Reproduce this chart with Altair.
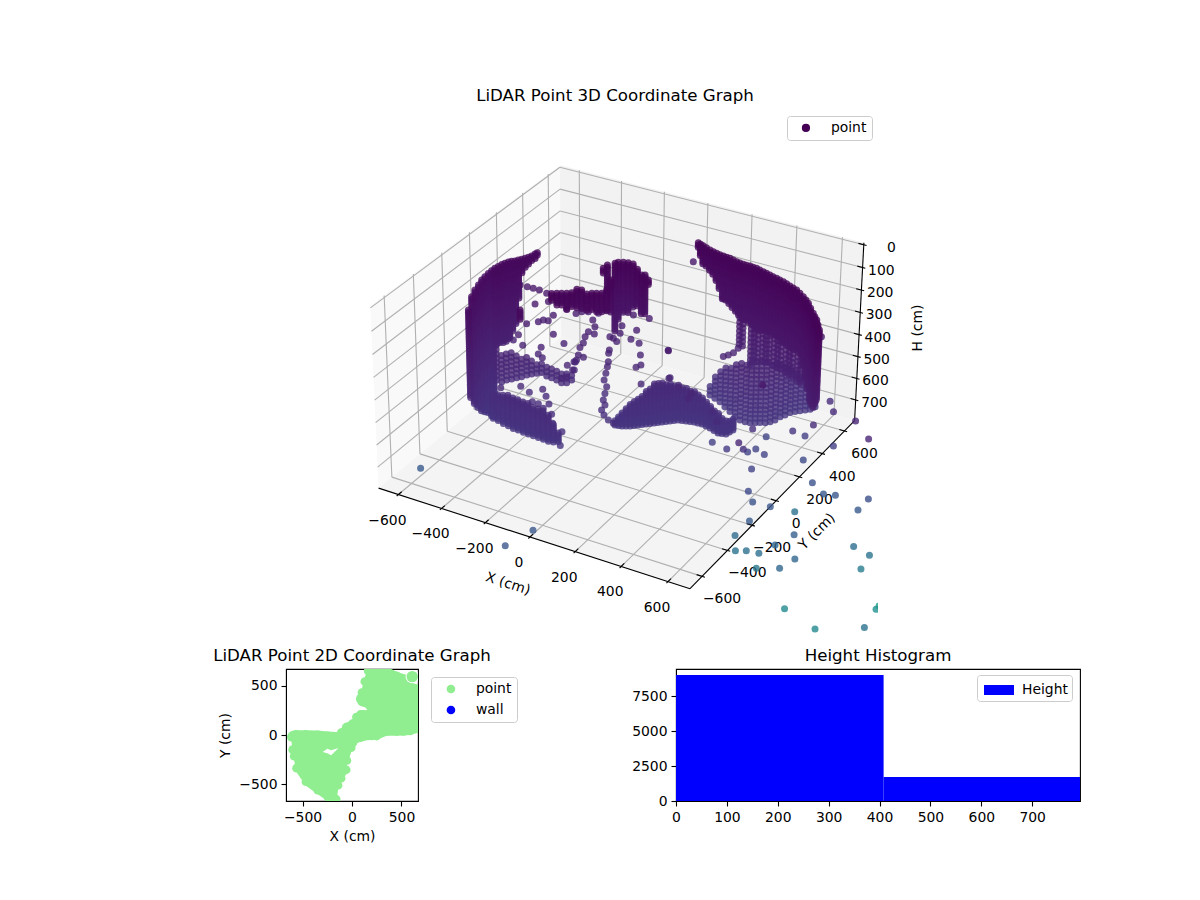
import numpy as np
import pandas as pd
import altair as alt

FONT = "DejaVu Sans"
X_TICKS = [-600, -400, -200, 0, 200, 400, 600]
Y_TICKS = [-600, -400, -200, 0, 200, 400, 600]
H_TICKS = [0, 100, 200, 300, 400, 500, 600, 700]
x0, x1, y0, y1 = -693, 693, -693, 693
zb, zt = 796, -9

# isolated LiDAR returns: (x, y, h) in cm
far_points = [(588,-126,500),(307,320,850),(477,132,700),(280,560,1000),(298,598,1000),(348,578,1000),(194,409,900),(355,452,1000),(436,766,1100),(634,629,900),(1004,144,500),(903,239,500),(546,427,750),(499,641,900),(704,283,600),(475,212,650),(290,706,1000),(351,437,1100),(298,585,1250),(309,730,1350),(446,843,1250),(425,1003,1400),(507,947,1350),(737,774,1200),(608,963,1400),(43,1522,1900),(249,658,1400),(4,1008,1750),(393,797,1500),(259,891,1650),(464,1258,1800),(-41,1104,1900),(35,1061,1850),(127,1002,1800),(493,1369,1900),(382,837,1650),(358,741,1650),(38,1160,2000),(385,1527,2100),(70,1400,2350),(349,1806,2500),(203,2173,2750),(264,1325,2350),(715,857,1900)]
near_points = [(-87,741,300),(140,125,350),(123,173,500),(149,200,550),(255,108,500),(263,68,500),(314,175,600),(365,116,600),(680,478,600),(727,413,600),(620,-4,300),(647,441,300),(253,362,200),(267,347,450),(278,368,450),(287,395,450),(287,435,450),(-1184,316,1400),(-464,76,1350),(-503,-80,1350)]
mid_points = [(-510,189,350),(-464,217,340),(-470,148,400),(-450,154,390),(-430,159,390),(-426,192,380),(-502,110,400),(-512,63,430),(-480,43,460),(-392,135,430),(-344,137,460),(-417,81,470),(-408,44,480),(-388,42,490),(-297,84,520),(-283,123,520),(-263,81,530),(-247,126,490),(-282,158,470),(-279,180,460),(-272,208,420),(-281,197,440),(-251,219,430),(-261,241,410),(-278,253,390),(-355,251,380),(-388,232,360),(-333,259,370),(-310,272,370),(-277,296,380),(-253,321,370),(-171,302,410),(-110,314,420),(-120,286,450),(-84,289,460),(-59,256,490),(-35,218,510),(-51,207,520),(-11,178,570),(-87,376,390),(-148,354,380),(36,313,470),(80,242,550),(-490,-111,580),(-417,-77,570),(-381,-71,590),(-338,-39,580),(-316,-50,600),(-331,-85,620),(-351,-98,610),(-293,-66,620),(-304,-92,630),(-269,-86,650),(-247,-115,670),(-199,-123,690),(-185,-160,730),(-526,46,450),(-541,32,440),(-597,217,300),(-564,219,300),(-546,235,310),(-517,235,310),(-487,242,320),(-176,242,440),(-160,241,450),(-195,247,440),(-164,275,430),(-169,198,470),(-167,189,480),(-161,176,510),(-153,155,520),(-149,136,540),(-146,117,560),(-119,91,570),(-116,72,590),(-113,54,610),(-96,38,620),(-105,27,640),(-86,13,650),(-60,3,660),(-38,5,670),(-274,132,490),(-269,109,500),(-280,108,510),(-269,78,530),(-280,50,550),(-291,29,550)]

# scanned wall columns: (x, y, top h, bottom h) in cm
wall_a = [(-515,-293,150,540),(-562,-196,150,630),(-580,-144,150,680),(-590,-102,150,720),(-601,-61,150,750),(-605,-31,150,770),(-608,-1,150,800),(-609,25,150,820)]
wall_b = [(-557,-32,100,440),(-553,-13,100,440),(-550,8,100,450),(-545,24,100,450),(-539,40,100,440),(-531,51,100,410),(-521,60,100,380),(-514,74,100,270),(-293,-271,100,140),(-505,85,100,160),(-498,99,100,140),(-491,113,100,130),(-486,129,100,120),(-483,150,100,120),(-481,164,100,110)]
floor_c = [(-535,-101,630,740),(-508,-106,620,740),(-479,-114,610,740),(-452,-119,600,740),(-424,-127,600,740),(-400,-128,600,740),(-373,-133,600,740),(-349,-134,600,740),(-325,-135,610,740),(-301,-136,610,740),(-276,-139,610,740),(-251,-142,620,740),(-231,-136,660,740),(-216,-124,700,740)]
lattice_d = [(-555,-39,440,600),(-530,-40,470,600),(-520,-19,470,600),(-507,-2,480,600),(-495,17,490,600),(-482,34,510,600),(-471,56,520,600),(-458,72,540,600),(-443,87,550,600),(-429,102,560,600),(-397,89,550,600),(-373,87,550,600),(-346,82,550,600),(-318,73,550,600),(-300,83,550,600),(-294,112,570,600)]
ceiling_e = [(-199,-192,40,70),(-182,-182,40,90),(-166,-173,40,90),(-149,-163,40,110),(-135,-149,40,100),(-132,-116,40,120),(-113,-112,40,120),(-80,-130,40,110),(-66,-115,40,110),(-50,-106,40,120),(-33,-96,40,120),(-130,82,40,60),(-130,114,40,150),(-30,-64,40,130),(-57,14,40,180),(-111,141,40,340),(-104,154,40,290),(-87,164,40,260),(-69,171,40,260),(-47,171,40,230),(-11,141,40,200),(26,109,40,210),(38,115,40,210),(69,86,40,60)]
wall_f = [(78,472,50,70),(92,465,50,100),(107,459,50,130),(127,449,50,135),(148,440,50,140),(166,434,50,155),(184,428,50,170),(200,425,50,205),(217,422,50,240),(233,419,50,245),(249,417,50,250),(267,411,50,260),(285,406,50,270),(301,402,50,280),(318,399,50,290),(332,399,50,295),(347,400,50,300),(362,397,50,305),(378,395,50,310),(395,389,50,310),(413,384,50,310),(430,378,50,305),(448,372,50,300),(465,366,50,300),(483,361,50,300),(500,355,50,305),(518,350,50,310),(537,340,50,310),(556,331,50,310),(574,323,50,310),(593,315,50,310),(616,297,50,305),(639,280,50,300),(660,261,50,340),(680,242,50,380),(705,211,50,405),(731,181,50,430),(748,161,50,430),(766,141,50,430),(787,109,50,390),(809,77,50,350)]
lattice_g = [(283,450,300,450),(301,444,300,440),(349,424,300,500),(360,431,300,490),(378,426,300,490),(407,411,300,470),(425,406,300,470),(436,413,300,470),(465,398,300,470),(483,393,300,460),(500,388,300,470),(529,374,300,470),(547,368,300,470),(564,363,300,470),(593,349,300,470),(616,332,300,470)]
floor_h = [(117,526,710,760),(147,513,660,760),(178,499,610,760),(214,474,580,760),(250,450,550,760),(286,425,520,760),(316,412,500,760),(340,411,490,760),(361,414,480,760),(378,424,480,760),(395,434,480,760),(413,444,480,760),(427,461,490,760),(438,482,500,760),(444,516,520,760),(455,537,540,760),(464,564,560,760),(478,581,570,760),(492,598,600,760),(508,613,630,760),(523,628,690,760),(531,657,730,760)]
floor_i = [(-101,127,740,760),(-87,131,720,760),(-73,135,700,760),(-59,143,680,760),(-45,151,660,760),(-33,162,650,760),(-21,173,640,760),(-9,184,625,760),(3,196,610,760),(15,207,595,760),(27,219,580,760),(39,230,580,760),(51,242,580,760),(63,253,585,760),(75,265,590,760),(87,276,595,760),(99,288,600,760),(115,292,605,760),(131,297,610,760),(147,301,615,760),(163,306,620,760),(180,307,630,760),(198,308,640,760),(220,302,650,760),(241,297,660,760),(264,288,665,760),(287,279,670,760),(302,283,685,760),(318,288,700,760),(323,308,705,760),(328,329,710,760)]
SCAN_H = [40,50,60,70,80,90,100,110,120,130,140,150,160,170,180,190,200,210,220,230,240,250,260,270,280,290,300,310,320,330,340,350,360,370,380,390,400,410,420,430,440,450,460,470,480,490,500,510,520,530,540,550,560,570,580,590,600,610,620,630,640,650,660,670,680,690,700,710,720,730,740,750,760,770,780,790,800,810,820]

# 2D footprint
low_x = [-612,-600,-585,-561,-466,-347,-245,-160,-140,-109,-58,-51,-7,10,44,85,112,163,197,248]
low_y = [-60,-190,-257,-377,-514,-599,-668,-690,-550,-479,-394,-300,-171,-120,-80,-70,-60,-51,-51,-51]
low_t = [20,40,45,48,48,45,35,30,30,68,120,125,144,160,223,250,250,250,245,300]
up_x = [85,100,129,163,180,248,350,452,520,588,680]
up_y = [330,291,285,270,250,-51,-7,-7,-5,0,27]
up_t = [400,470,582,690,690,690,690,640,616,531,507]
hole_x = [-296,-250,-211,-143]
hole_y = [-171,-185,-205,-140]
hole_t = [-171,-140,-154,-135]
spot = (609, 590)

HIST_EDGES = [0, 408, 816]
HIST_COUNTS = [9000, 1714]

# camera calibrated on the reference's box corners
world = [(x0,y0,zb),(x1,y0,zb),(x1,y1,zb),(x1,y1,zt),(x0,y1,zt),(x0,y0,zt),(x0,y1,0),(x1,y1,0),(-600,y0,zb),(600,y0,zb),(x1,-600,zb),(x1,600,zb)]
plane = [(378.5,487.7),(691,589.3),(855.7,421.7),(863.7,241),(560.5,164.5),(370,307),(560,167.7),(863.5,245.5),(398,494),(668,582),(702,575),(843,431)]
A = []
for (X, Y, Z), (a, b) in zip(world, plane):
    X, Y, Z = X / 700, Y / 700, Z / 700
    A.append([X, Y, Z, 1, 0, 0, 0, 0, -a * X, -a * Y, -a * Z, -a])
    A.append([0, 0, 0, 0, X, Y, Z, 1, -b * X, -b * Y, -b * Z, -b])
P = np.linalg.svd(np.array(A))[2][-1].reshape(3, 4)
P = P / P[2, 3]


def proj(x, y, z):
    q = P @ np.array([x / 700, y / 700, z / 700, 1])
    return q[0] / q[2], q[1] / q[2], q[2]


PX = alt.Scale(domain=[286, 878], nice=False, zero=False)
PY = alt.Scale(domain=[634, 107], nice=False, zero=False)
XE = alt.X("x:Q", scale=PX, axis=None)
YE = alt.Y("y:Q", scale=PY, axis=None)


def segs(lst, color, width):
    rows = []
    for a, b in lst:
        pa, pb = proj(*a), proj(*b)
        rows.append({"x": pa[0], "y": pa[1], "x2": pb[0], "y2": pb[1]})
    return alt.Chart(pd.DataFrame(rows)).mark_rule(color=color, strokeWidth=width).encode(x=XE, y=YE, x2="x2:Q", y2="y2:Q")


def pane(corners, color):
    pts = [proj(*c)[:2] for c in corners]
    xs = sorted({round(p[0], 3) for p in pts})
    rows = []
    n = len(pts)
    for xv in xs:
        ys = []
        for i in range(n):
            a, b = pts[i], pts[(i + 1) % n]
            lo, hi = min(a[0], b[0]) - 1e-2, max(a[0], b[0]) + 1e-2
            if lo <= xv <= hi:
                if abs(a[0] - b[0]) < 1e-6:
                    ys += [a[1], b[1]]
                else:
                    ys.append(a[1] + (xv - a[0]) / (b[0] - a[0]) * (b[1] - a[1]))
        rows.append({"x": xv, "y": min(ys), "y2": max(ys)})
    return alt.Chart(pd.DataFrame(rows)).mark_area(color=color).encode(x=XE, y=YE, y2="y2:Q")


layers = [
    pane([(x0, y0, zb), (x0, y1, zb), (x0, y1, zt), (x0, y0, zt)], "#f9f9f9"),
    pane([(x0, y1, zb), (x1, y1, zb), (x1, y1, zt), (x0, y1, zt)], "#f2f2f2"),
    pane([(x0, y0, zb), (x1, y0, zb), (x1, y1, zb), (x0, y1, zb)], "#f4f4f4"),
]
grid = []
for t in X_TICKS:
    grid += [((t, y0, zb), (t, y1, zb)), ((t, y1, zb), (t, y1, zt))]
for t in Y_TICKS:
    grid += [((x0, t, zb), (x1, t, zb)), ((x0, t, zb), (x0, t, zt))]
for t in H_TICKS:
    grid += [((x0, y0, t), (x0, y1, t)), ((x0, y1, t), (x1, y1, t))]
layers.append(segs(grid, "#b0b0b0", 1.1))
axes_l = [((x0, y0, zb), (x1, y0, zb)), ((x1, y0, zb), (x1, y1, zb)), ((x1, y1, zb), (x1, y1, zt))]
ticks = []
for t in X_TICKS:
    ticks.append(((t, y0 + 23, zb), (t, y0 - 12, zb)))
for t in Y_TICKS:
    ticks.append(((x1 - 23, t, zb), (x1 + 12, t, zb)))
for t in H_TICKS:
    ticks.append(((x1 - 23, y1, t), (x1 + 12, y1, t)))
layers.append(segs(axes_l + ticks, "black", 1.1))


def labels(rows, dx, dy, align="center", angle=0):
    # text offsets turn with the text, so undo the rotation
    th = np.radians(angle)
    ldx = float(dx * np.cos(th) + dy * np.sin(th))
    ldy = float(-dx * np.sin(th) + dy * np.cos(th))
    return alt.Chart(pd.DataFrame(rows)).mark_text(font=FONT, fontSize=13.9, dx=ldx, dy=ldy, align=align, baseline="middle", angle=angle, color="black").encode(x=XE, y=YE, text="t:N")


def fm(t):
    return str(t).replace("-", "\u2212")


def lab(p, t):
    q = proj(*p)
    return {"x": q[0], "y": q[1], "t": t}


layers.append(labels([lab((t, y0, zb), fm(t)) for t in X_TICKS], -11, 26))
layers.append(labels([lab((x1, t, zb), fm(t)) for t in Y_TICKS], 20, 23))
layers.append(labels([lab((x1, y1, t), fm(t)) for t in H_TICKS], 32, 3, align="right"))
layers.append(labels([lab((0, y0, zb), "X (cm)")], -22, 47, angle=18))
layers.append(labels([lab((x1, 0, zb), "Y (cm)")], 41, 31, angle=315))
layers.append(labels([lab((x1, y1, 370), "H (cm)")], 59, 0, angle=270))


def expand(columns, stride=1):
    out = []
    hs = SCAN_H[::stride]
    for x, y, t, b in columns:
        for h in hs:
            if t <= h <= b:
                out.append((x, y, h))
    return out


pts3 = far_points + near_points + mid_points
pts3 += expand(wall_a) + expand(wall_b) + expand(floor_c) + expand(lattice_d, 2) + expand(ceiling_e)
pts3 += expand(wall_f) + expand(lattice_g, 2) + expand(floor_h, 2) + expand(floor_i)
rows = []
for x, y, h in pts3:
    q = proj(x, y, h)
    rows.append({"x": q[0], "y": q[1], "h": h, "d": q[2], "series": "point"})
df3 = pd.DataFrame(rows).sort_values("d", ascending=False)
layers.append(alt.Chart(df3).mark_point(filled=True, size=49, opacity=0.8, clip=True).encode(
    x=XE, y=YE,
    color=alt.Color("h:Q", scale=alt.Scale(scheme="viridis", domain=[0, 5000]), legend=None),
    shape=alt.Shape("series:N", scale=alt.Scale(domain=["point"], range=["circle"]), legend=alt.Legend(
        title=None, orient="none", legendX=501, legendY=9, symbolFillColor="#440154", symbolStrokeColor="#440154", symbolOpacity=1, symbolSize=45, symbolOffset=7, labelOffset=18,
        labelFont=FONT, labelFontSize=13.9, fillColor="white", strokeColor="#cccccc", cornerRadius=3, padding=5))))

top = alt.layer(*layers).properties(width=592, height=527, view=alt.ViewConfig(stroke=None),
    title=alt.TitleParams("LiDAR Point 3D Coordinate Graph", font=FONT, fontSize=16.67, fontWeight="normal", dx=33, anchor="middle", offset=2))


def ax(title, vals):
    return alt.Axis(title=title, values=vals, format="d", grid=False, labelFlush=False, labelFont=FONT, labelFontSize=13.9, titleFont=FONT, titleFontSize=13.9,
                    titleFontWeight="normal", titlePadding=6, tickColor="black", domainColor="black", labelColor="black", titleColor="black", tickSize=5, labelPadding=4, tickWidth=1.1)


S2 = alt.Scale(domain=[-667, 667], nice=False)
X2 = alt.X("x:Q", scale=S2, axis=ax("X (cm)", [-500, 0, 500]))
Y2 = alt.Y("y:Q", scale=S2, axis=ax("Y (cm)", [-500, 0, 500]))
GREEN = "#90EE90"
a_low = pd.DataFrame({"x": low_x, "y": low_y, "y2": low_t})
a_up = pd.DataFrame({"x": up_x, "y": up_y, "y2": up_t})
a_hole = pd.DataFrame({"x": hole_x, "y": hole_y, "y2": hole_t})
ar1 = alt.Chart(a_low).mark_area(color=GREEN, clip=True).encode(x=X2, y=Y2, y2="y2:Q")
ar2 = alt.Chart(a_up).mark_area(color=GREEN, clip=True).encode(x=X2, y=Y2, y2="y2:Q")
ar3 = alt.Chart(a_hole).mark_area(color="white", clip=True).encode(x=X2, y=Y2, y2="y2:Q")
edge = pd.DataFrame({"x": low_x + low_x + up_x + up_x,
                     "y": [v + 42 for v in low_y] + [v - 42 for v in low_t] + [v + 42 for v in up_y] + [v - 42 for v in up_t],
                     "kind": "point"})
scat = alt.Chart(edge).mark_circle(size=74, opacity=1, clip=True).encode(x=X2, y=Y2, color=alt.Color("kind:N", scale=alt.Scale(domain=["point", "wall"], range=[GREEN, "#0000ff"]), legend=alt.Legend(
    title=None, orient="none", legendX=145, legendY=8, symbolSize=74, symbolOpacity=1, symbolOffset=8, labelOffset=18, rowPadding=6, labelFont=FONT, labelFontSize=13.9, fillColor="white", strokeColor="#cccccc", cornerRadius=3, padding=5)))
sp = pd.DataFrame({"x": [spot[0]], "y": [spot[1]]})
ring = alt.Chart(sp).mark_circle(size=180, color="white", opacity=1, clip=True).encode(x=X2, y=Y2)
dot = alt.Chart(sp).mark_circle(size=130, color=GREEN, opacity=1, clip=True).encode(x=X2, y=Y2)
left = alt.layer(ar1, ar2, scat, ar3, ring, dot).properties(width=132, height=132, view=alt.ViewConfig(stroke="black", strokeWidth=1.1),
    title=alt.TitleParams("LiDAR Point 2D Coordinate Graph", font=FONT, fontSize=16.67, fontWeight="normal", offset=4))

hist = pd.DataFrame({"a": HIST_EDGES[:-1], "b": HIST_EDGES[1:], "c": HIST_COUNTS, "s": ["Height", "Height"]})
right = alt.Chart(hist).mark_rect(clip=True).encode(
    x=alt.X("a:Q", scale=alt.Scale(domain=[0, 794], nice=False), axis=ax(None, [0, 100, 200, 300, 400, 500, 600, 700])),
    x2="b:Q",
    y=alt.Y("c:Q", scale=alt.Scale(domain=[0, 9430], nice=False), axis=ax(None, [0, 2500, 5000, 7500])),
    y2=alt.datum(0),
    color=alt.Color("s:N", scale=alt.Scale(domain=["Height"], range=["#0000ff"]), legend=alt.Legend(title=None, orient="none", legendX=301, legendY=6, symbolType="M-1.5,-0.5H1.5V0.5H-1.5Z", symbolSize=400, symbolOffset=7, labelOffset=12, labelFont=FONT, labelFontSize=13.9, fillColor="white", strokeColor="#cccccc", cornerRadius=3, padding=4)),
).properties(width=404, height=132, view=alt.ViewConfig(stroke="black", strokeWidth=1.1),
    title=alt.TitleParams("Height Histogram", font=FONT, fontSize=16.67, fontWeight="normal", offset=4))

bottom = alt.hconcat(left, right, spacing=258, bounds="flush").resolve_scale(color="independent", shape="independent")
chart = alt.vconcat(top, bottom, spacing=35, bounds="flush").resolve_scale(color="independent", shape="independent").properties(
    padding={"left": 204, "top": 80, "right": 0, "bottom": 0}, background="white")
chart.save("out.html", embed_options={"renderer": "svg", "actions": False})
